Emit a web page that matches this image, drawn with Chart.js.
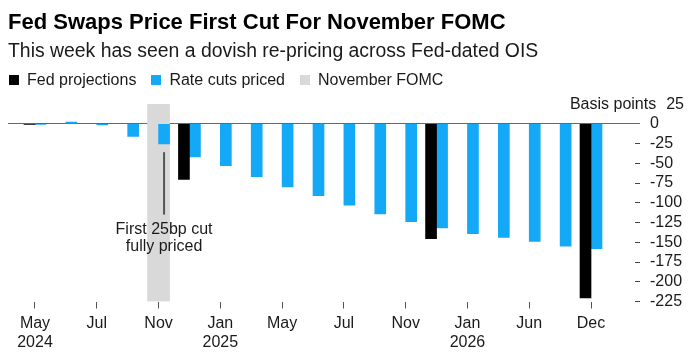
<!DOCTYPE html>
<html>
<head>
<meta charset="utf-8">
<script src="https://cdn.jsdelivr.net/npm/chart.js@4.4.1/dist/chart.umd.min.js"></script>
<style>
html,body{margin:0;padding:0;background:#fff;}
#wrap{position:relative;width:700px;height:357px;overflow:hidden;font-family:"Liberation Sans",Arial,sans-serif;}
#c{position:absolute;left:0;top:0;}
.t{position:absolute;white-space:nowrap;}
#title{left:8px;top:11px;font-size:22px;font-weight:bold;line-height:22px;color:#000;}
#sub{left:8px;top:40px;font-size:19.4px;line-height:20px;color:#1a1a1a;}
#legend{left:9px;top:71.5px;font-size:16px;line-height:16px;color:#1a1a1a;display:flex;align-items:center;}
#legend .sq{display:inline-block;width:10px;height:10px;margin-right:8px;}
#legend .lb{margin-right:15px;}
#unit{right:16px;top:96px;font-size:16px;line-height:16px;color:#1a1a1a;}
</style>
</head>
<body>
<div id="wrap">
  <canvas id="c" width="700" height="357"></canvas>
  <div class="t" id="title">Fed Swaps Price First Cut For November FOMC</div>
  <div class="t" id="sub">This week has seen a dovish re-pricing across Fed-dated OIS</div>
  <div class="t" id="legend"></div>
  <div class="t" id="unit">Basis points<span style="margin-left:10px">25</span></div>
</div>
<script>
// ---- data ----
const categories = ['May 2024','Jun 2024','Jul 2024','Sep 2024','Nov 2024','Dec 2024',
  'Jan 2025','Mar 2025','May 2025','Jun 2025','Jul 2025','Sep 2025','Nov 2025','Dec 2025',
  'Jan 2026','Mar 2026','Jun 2026','Sep 2026','Dec 2026'];
const fedProjections = [-1, null, null, null, null, -70.5, null, null, null, null, null, null, null, -145.5, null, null, null, null, -220.5];
const ratesPriced = [-1, 2, -1.5, -16, -25.5, -42, -53, -67, -80, -91, -103, -114, -124, -132, -139, -144, -149, -155, -158];
const novemberFOMC = [null, null, null, null, [-225, 25], null, null, null, null, null, null, null, null, null, null, null, null, null, null];
const tickIndex = [0, 2, 4, 6, 8, 10, 12, 14, 16, 18];
const tickLabels = [['May','2024'], ['Jul'], ['Nov'], ['Jan','2025'], ['May'], ['Jul'], ['Nov'], ['Jan','2026'], ['Jun'], ['Dec']];
const yMin = -225, yMax = 25, yStep = 25;
const annotIndex = 4;
const annotRange = [-36, -115];
const annotText = ['First 25bp cut', 'fully priced'];

const seriesNames = ['Fed projections', 'Rate cuts priced', 'November FOMC'];
const seriesColors = ['#000000', '#14a9f7', '#d9d9d9'];

// ---- legend (HTML) ----
const lg = document.getElementById('legend');
seriesNames.forEach((n, i) => {
  const s = document.createElement('span'); s.className = 'sq'; s.style.background = seriesColors[i];
  const l = document.createElement('span'); l.className = 'lb'; l.textContent = n;
  lg.appendChild(s); lg.appendChild(l);
});

const FONT = '"Liberation Sans", Arial, sans-serif';
Chart.defaults.font.family = FONT;
Chart.defaults.color = '#1a1a1a';

const xMin = -0.874, xMax = 19.424;
const toPts = arr => arr.map((v, i) => ({x: i, y: v}));

const annotPlugin = {
  id: 'annot',
  afterDatasetsDraw(chart) {
    const bar = chart.getDatasetMeta(1).data[annotIndex];
    const ys = chart.scales.y;
    const x = bar.x;
    const y1 = ys.getPixelForValue(annotRange[0]);
    const y2 = ys.getPixelForValue(annotRange[1]);
    const c = chart.ctx;
    c.save();
    c.strokeStyle = '#555';
    c.lineWidth = 2;
    c.beginPath(); c.moveTo(x, y1); c.lineTo(x, y2); c.stroke();
    c.font = '16px ' + FONT;
    c.fillStyle = '#1a1a1a';
    c.textAlign = 'center';
    c.textBaseline = 'middle';
    annotText.forEach((t, i) => c.fillText(t, x, y2 + 15 + i * 17));
    c.restore();
  }
};

new Chart(document.getElementById('c'), {
  type: 'bar',
  data: {
    datasets: [
      { label: seriesNames[0], data: toPts(fedProjections), backgroundColor: seriesColors[0], borderWidth: 0,
        barThickness: 11, order: 1 },
      { label: seriesNames[1], data: toPts(ratesPriced), backgroundColor: seriesColors[1], borderWidth: 0,
        barThickness: 11, order: 1 },
      { label: seriesNames[2], data: toPts(novemberFOMC), backgroundColor: seriesColors[2], borderWidth: 0,
        barThickness: 22, grouped: false, order: 5 }
    ]
  },
  options: {
    responsive: false,
    devicePixelRatio: 1,
    animation: false,
    layout: { autoPadding: false, padding: { top: 104, left: 8, right: 0, bottom: 0 } },
    plugins: { legend: { display: false }, tooltip: { enabled: false } },
    scales: {
      x: {
        type: 'linear', min: xMin, max: xMax, offset: false,
        afterFit(s) { s.height = 55.5; },
        afterBuildTicks(s) { s.ticks = tickIndex.map(v => ({ value: v })); },
        border: { display: false },
        grid: { offset: false, drawOnChartArea: false, tickLength: 7, color: '#555', lineWidth: 1 },
        ticks: { padding: 5, color: '#1a1a1a', font: { size: 16 }, maxRotation: 0, autoSkip: false,
          callback: v => { const k = tickIndex.indexOf(v); return k >= 0 ? tickLabels[k] : ''; } }
      },
      y: {
        position: 'right', min: yMin, max: yMax, z: 1,
        afterFit(s) { s.width = 65; },
        border: { display: false },
        grid: {
          lineWidth: 1, tickLength: 5,
          color: c => (c.tick && c.tick.value === 0) ? '#666' : 'rgba(0,0,0,0)',
          tickColor: c => (c.tick && c.tick.value === yMax) ? 'rgba(0,0,0,0)' : ((c.tick && c.tick.value === 0) ? '#666' : '#444')
        },
        ticks: { stepSize: yStep, padding: 10, color: '#1a1a1a', font: { size: 16 }, autoSkip: false,
          callback: v => v === yMax ? '' : String(v) }
      }
    }
  },
  plugins: [annotPlugin]
});
</script>
</body>
</html>
